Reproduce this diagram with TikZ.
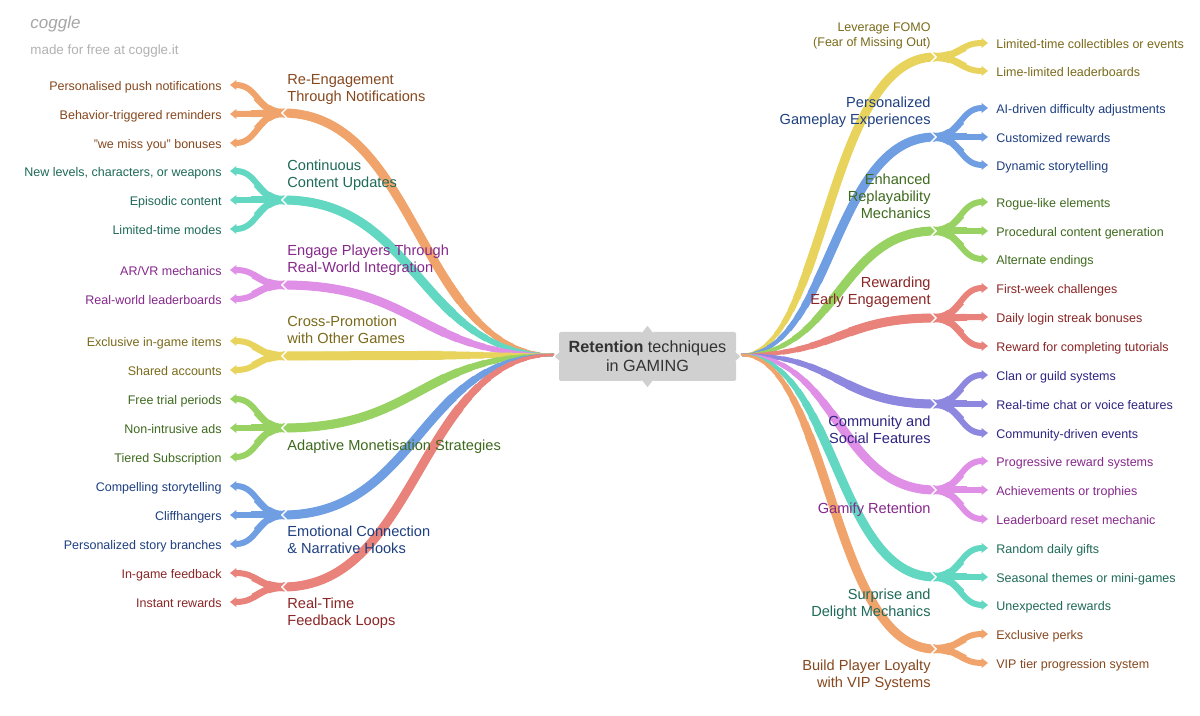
\documentclass[tikz,border=0pt]{standalone}
\usepackage{fontspec}
\setmainfont{Liberation Sans}
\usetikzlibrary{arrows.meta}
\definecolor{cOr}{HTML}{F0A46C}\definecolor{cOrT}{HTML}{86481E}
\definecolor{cTe}{HTML}{62D7C1}\definecolor{cTeT}{HTML}{1E6A58}
\definecolor{cPi}{HTML}{E08FE7}\definecolor{cPiT}{HTML}{86288C}
\definecolor{cYe}{HTML}{E8D45C}\definecolor{cYeT}{HTML}{7A6A1A}
\definecolor{cGr}{HTML}{97D263}\definecolor{cGrT}{HTML}{3E6A1E}
\definecolor{cBl}{HTML}{6F9FE2}\definecolor{cBlT}{HTML}{1E3F80}
\definecolor{cRe}{HTML}{E8827B}\definecolor{cReT}{HTML}{8A2626}
\definecolor{cVi}{HTML}{8E87DF}\definecolor{cViT}{HTML}{2D2582}
\definecolor{cBox}{HTML}{D0D0D0}
\tikzset{
  br/.style={line cap=butt},
  ch/.style={line width=3pt, -{Triangle[width=4.8pt,length=3.2pt]}},
  chw/.style={line cap=butt},
  notch/.style={white, line width=0.7pt},
  chtxt/.style={inner sep=0pt, font=\fontsize{6.25}{7.5}\selectfont},
  lbl/.style={inner sep=0pt, font=\fontsize{7.3}{8.6}\selectfont,
    execute at begin node=\strut, execute at end node=\strut},
  lbll/.style={lbl, align=left},
  lblr/.style={lbl, align=right},
}
% tapered branches: thin at the root, full width further out
\newcommand\lbr[4]{% name, colour, y, control x
  \coordinate (#1) at (283,#3);
  \foreach \i [evaluate=\i as \w using 1.3+0.4*\i,
               evaluate=\i as \o using 7*\i] in {0,...,8}{
    \draw[br,#2,line width=\w pt, dash pattern=on 0pt off \o pt on 3000pt]
      (rootL) .. controls (#4,355) and (#4,#3) .. (#1);}}
\newcommand\rbr[4]{%
  \coordinate (#1) at (935,#3);
  \foreach \i [evaluate=\i as \w using 1.3+0.4*\i,
               evaluate=\i as \o using 7*\i] in {0,...,8}{
    \draw[br,#2,line width=\w pt, dash pattern=on 0pt off \o pt on 3000pt]
      (rootR) .. controls (#4,355) and (#4,#3) .. (#1);}}
\newcommand\lch[6]{% parent, name, colour, parent y, child y, text
  \coordinate (#2t) at (230,#5);
  \node[chtxt,text=#3T,anchor=base east] (#2) at (222,#5+5.5) {#6};
  \draw[ch,#3] (#1) .. controls (258,#4) and (258,#5) .. (#2t);
  \draw[chw,#3,line width=3.5pt,dash pattern=on 16pt off 3000pt] (#1) .. controls (258,#4) and (258,#5) .. (#2t);
  \draw[chw,#3,line width=4.1pt,dash pattern=on 8pt off 3000pt] (#1) .. controls (258,#4) and (258,#5) .. (#2t);}
\newcommand\rch[6]{%
  \coordinate (#2t) at (988,#5);
  \node[chtxt,text=#3T,anchor=base west] (#2) at (996,#5+5.5) {#6};
  \draw[ch,#3] (#1) .. controls (960,#4) and (960,#5) .. (#2t);
  \draw[chw,#3,line width=3.5pt,dash pattern=on 16pt off 3000pt] (#1) .. controls (960,#4) and (960,#5) .. (#2t);
  \draw[chw,#3,line width=4.1pt,dash pattern=on 8pt off 3000pt] (#1) .. controls (960,#4) and (960,#5) .. (#2t);}
\newcommand\lnotch[1]{\draw[notch] ([xshift=2pt,yshift=2.6pt]#1) -- ([xshift=-0.6pt]#1) -- ([xshift=2pt,yshift=-2.6pt]#1);}
\newcommand\rnotch[1]{\draw[notch] ([xshift=-2pt,yshift=2.6pt]#1) -- ([xshift=0.6pt]#1) -- ([xshift=-2pt,yshift=-2.6pt]#1);}
\begin{document}
\begin{tikzpicture}[x=0.5pt,y=-0.5pt]
\useasboundingbox (0,0) rectangle (1200,716);
\fill[white] (0,0) rectangle (1200,716);
% logo
\node[anchor=west,inner sep=0pt,text=black!35,font=\fontsize{8.5}{10}\selectfont\itshape] (logo) at (30,24) {coggle};
\node[anchor=west,inner sep=0pt,text=black!30,font=\fontsize{6.7}{8}\selectfont] (made) at (30,51) {made for free at coggle.it};
\coordinate (rootL) at (554,355);
\coordinate (rootR) at (741,355);
% left branches
\lbr{LA}{cOr}{113}{419}
\lch{LA}{LA1}{cOr}{113}{85}{Personalised push notifications}
\lch{LA}{LA2}{cOr}{113}{114}{Behavior-triggered reminders}
\lch{LA}{LA3}{cOr}{113}{143}{"we miss you" bonuses}
\lbr{LB}{cTe}{200}{419}
\lch{LB}{LB1}{cTe}{200}{171}{New levels, characters, or weapons}
\lch{LB}{LB2}{cTe}{200}{200}{Episodic content}
\lch{LB}{LB3}{cTe}{200}{229}{Limited-time modes}
\lbr{LC}{cPi}{285}{419}
\lch{LC}{LC1}{cPi}{285}{270}{AR/VR mechanics}
\lch{LC}{LC2}{cPi}{285}{299}{Real-world leaderboards}
\lbr{LD}{cYe}{356}{419}
\lch{LD}{LD1}{cYe}{356}{341}{Exclusive in-game items}
\lch{LD}{LD2}{cYe}{356}{370}{Shared accounts}
\lbr{LE}{cGr}{428}{419}
\lch{LE}{LE1}{cGr}{428}{399}{Free trial periods}
\lch{LE}{LE2}{cGr}{428}{428}{Non-intrusive ads}
\lch{LE}{LE3}{cGr}{428}{457}{Tiered Subscription}
\lbr{LF}{cBl}{515}{419}
\lch{LF}{LF1}{cBl}{515}{486}{Compelling storytelling}
\lch{LF}{LF2}{cBl}{515}{515}{Cliffhangers}
\lch{LF}{LF3}{cBl}{515}{544}{Personalized story branches}
\lbr{LG}{cRe}{587}{419}
\lch{LG}{LG1}{cRe}{587}{573}{In-game feedback}
\lch{LG}{LG2}{cRe}{587}{602}{Instant rewards}
% right branches
\rbr{RA}{cYe}{57}{826}
\rch{RA}{RA1}{cYe}{57}{43}{Limited-time collectibles or events}
\rch{RA}{RA2}{cYe}{57}{71}{Lime-limited leaderboards}
\rbr{RB}{cBl}{137}{832}
\rch{RB}{RB1}{cBl}{137}{108}{AI-driven difficulty adjustments}
\rch{RB}{RB2}{cBl}{137}{137}{Customized rewards}
\rch{RB}{RB3}{cBl}{137}{165}{Dynamic storytelling}
\rbr{RC}{cGr}{231}{838}
\rch{RC}{RC1}{cGr}{231}{202}{Rogue-like elements}
\rch{RC}{RC2}{cGr}{231}{231}{Procedural content generation}
\rch{RC}{RC3}{cGr}{231}{259}{Alternate endings}
\rbr{RD}{cRe}{318}{838}
\rch{RD}{RD1}{cRe}{318}{288}{First-week challenges}
\rch{RD}{RD2}{cRe}{318}{317}{Daily login streak bonuses}
\rch{RD}{RD3}{cRe}{318}{346}{Reward for completing tutorials}
\rbr{RE}{cVi}{404}{838}
\rch{RE}{RE1}{cVi}{404}{375}{Clan or guild systems}
\rch{RE}{RE2}{cVi}{404}{404}{Real-time chat or voice features}
\rch{RE}{RE3}{cVi}{404}{433}{Community-driven events}
\rbr{RF}{cPi}{490}{838}
\rch{RF}{RF1}{cPi}{490}{461}{Progressive reward systems}
\rch{RF}{RF2}{cPi}{490}{490}{Achievements or trophies}
\rch{RF}{RF3}{cPi}{490}{519}{Leaderboard reset mechanic}
\rbr{RG}{cTe}{577}{835}
\rch{RG}{RG1}{cTe}{577}{548}{Random daily gifts}
\rch{RG}{RG2}{cTe}{577}{577}{Seasonal themes or mini-games}
\rch{RG}{RG3}{cTe}{577}{605}{Unexpected rewards}
\rbr{RH}{cOr}{649}{830}
\rch{RH}{RH1}{cOr}{649}{634}{Exclusive perks}
\rch{RH}{RH2}{cOr}{649}{663}{VIP tier progression system}
% junction notches
\foreach \n in {LA,LB,LC,LD,LE,LF,LG}{\lnotch{\n}}
\foreach \n in {RA,RB,RC,RD,RE,RF,RG,RH}{\rnotch{\n}}
% branch labels
\node[lbll,text=cOrT,anchor=south west] (LAl) at (287,107) {Re-Engagement\\Through Notifications};
\node[lbll,text=cTeT,anchor=south west] (LBl) at (287,193) {Continuous\\Content Updates};
\node[lbll,text=cPiT,anchor=south west] (LCl) at (287,278) {Engage Players Through\\Real-World Integration};
\node[lbll,text=cYeT,anchor=south west] (LDl) at (287,349) {Cross-Promotion\\with Other Games};
\node[lbll,text=cGrT,anchor=north west] (LEl) at (287,438.5) {Adaptive Monetisation Strategies};
\node[lbll,text=cBlT,anchor=north west] (LFl) at (287,525.5) {Emotional Connection\\\& Narrative Hooks};
\node[lbll,text=cReT,anchor=north west] (LGl) at (287,597.5) {Real-Time\\Feedback Loops};
\node[chtxt,align=right,text=cYeT,anchor=south east,
  execute at begin node=\strut, execute at end node=\strut] (RAl) at (931,51.5) {Leverage FOMO\\(Fear of Missing Out)};
\node[lblr,text=cBlT,anchor=south east] (RBl) at (931,130) {Personalized\\Gameplay Experiences};
\node[lblr,text=cGrT,anchor=south east] (RCl) at (931,224) {Enhanced\\Replayability\\Mechanics};
\node[lblr,text=cReT,anchor=south east] (RDl) at (931,310.5) {Rewarding\\Early Engagement};
\node[lblr,text=cViT,anchor=north east] (REl) at (931,415.5) {Community and\\Social Features};
\node[lblr,text=cPiT,anchor=north east] (RFl) at (931,501.5) {Gamify Retention};
\node[lblr,text=cTeT,anchor=north east] (RGl) at (931,588.5) {Surprise and\\Delight Mechanics};
\node[lblr,text=cOrT,anchor=north east] (RHl) at (931,659.5) {Build Player Loyalty\\with VIP Systems};
% centre
\node[fill=cBox, rounded corners=1pt, minimum width=88.5pt, minimum height=24.5pt,
  inner sep=0pt, align=center, text=black!80,
  font=\fontsize{8.1}{9.5}\selectfont] (ctr) at (647.5,356.5) {\textbf{Retention} techniques\\in GAMING};
\filldraw[fill=cBox,draw=white,line width=0.6pt] ([xshift=-3pt,yshift=-0.3pt]ctr.north) -- ([yshift=3.5pt]ctr.north) -- ([xshift=3pt,yshift=-0.3pt]ctr.north);
\filldraw[fill=cBox,draw=white,line width=0.6pt] ([xshift=-3pt,yshift=0.3pt]ctr.south) -- ([yshift=-3.5pt]ctr.south) -- ([xshift=3pt,yshift=0.3pt]ctr.south);
\filldraw[fill=cBox,draw=white,line width=0.6pt] ([xshift=0.3pt,yshift=2.6pt]ctr.west) -- ([xshift=-2.4pt]ctr.west) -- ([xshift=0.3pt,yshift=-2.6pt]ctr.west);
\filldraw[fill=cBox,draw=white,line width=0.6pt] ([xshift=-0.3pt,yshift=2.6pt]ctr.east) -- ([xshift=2.4pt]ctr.east) -- ([xshift=-0.3pt,yshift=-2.6pt]ctr.east);
\end{tikzpicture}
\end{document}
